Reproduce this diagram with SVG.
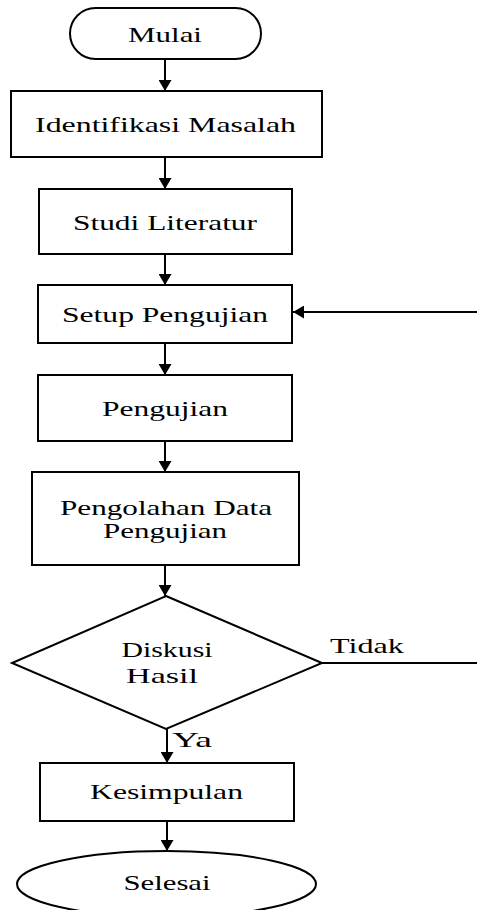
<svg xmlns="http://www.w3.org/2000/svg" width="477" height="910" viewBox="0 0 477 910">
<style>
.s{fill:#fff;stroke:#000;stroke-width:2}
.t{font-family:"Liberation Serif","Times New Roman",serif;font-size:21px;fill:#000;text-anchor:middle}
.c{fill:none;stroke:#000;stroke-width:2}
</style>
<defs>
<marker id="ah" markerUnits="userSpaceOnUse" viewBox="0 0 11 13" markerWidth="11" markerHeight="13" refX="11" refY="6.5" orient="auto">
<path d="M0,0 L11,6.5 L0,13 z" fill="#000"/>
</marker>
</defs>
<rect width="477" height="910" fill="#fff"/>
<g id="connectors">
<line class="c" x1="165" y1="59" x2="165" y2="91" marker-end="url(#ah)"/>
<line class="c" x1="165" y1="157" x2="165" y2="189" marker-end="url(#ah)"/>
<line class="c" x1="165" y1="254" x2="165" y2="285" marker-end="url(#ah)"/>
<line class="c" x1="165" y1="343" x2="165" y2="375" marker-end="url(#ah)"/>
<line class="c" x1="165" y1="441" x2="165" y2="472" marker-end="url(#ah)"/>
<line class="c" x1="165" y1="565" x2="165" y2="596" marker-end="url(#ah)"/>
<line class="c" x1="167" y1="729" x2="167" y2="763" marker-end="url(#ah)"/>
<line class="c" x1="167" y1="821" x2="167" y2="851" marker-end="url(#ah)"/>
<line class="c" x1="477" y1="312" x2="293" y2="312" marker-end="url(#ah)"/>
<line class="c" x1="322" y1="663" x2="477" y2="663"/>
<text class="t" transform="translate(367,653) scale(1.5,1)" textLength="49.3" lengthAdjust="spacingAndGlyphs">Tidak</text>
<text class="t" transform="translate(192,747) scale(1.5,1)" textLength="26.7" lengthAdjust="spacingAndGlyphs">Ya</text>
</g>
<g id="mulai">
<rect class="s" x="70" y="8" width="191" height="51" rx="25.5" ry="25.5"/>
<text class="t" transform="translate(165,42) scale(1.5,1)" textLength="49.3" lengthAdjust="spacingAndGlyphs">Mulai</text>
</g>
<g id="identifikasi">
<rect class="s" x="11" y="91" width="311" height="66"/>
<text class="t" transform="translate(165.5,132) scale(1.5,1)" textLength="174" lengthAdjust="spacingAndGlyphs">Identifikasi Masalah</text>
</g>
<g id="studi">
<rect class="s" x="39" y="189" width="253" height="65"/>
<text class="t" transform="translate(165,230) scale(1.5,1)" textLength="122.7" lengthAdjust="spacingAndGlyphs">Studi Literatur</text>
</g>
<g id="setup">
<rect class="s" x="38" y="285" width="254" height="58"/>
<text class="t" transform="translate(165,322) scale(1.5,1)" textLength="137.3" lengthAdjust="spacingAndGlyphs">Setup Pengujian</text>
</g>
<g id="pengujian">
<rect class="s" x="38" y="375" width="254" height="66"/>
<text class="t" transform="translate(165,416) scale(1.5,1)" textLength="84" lengthAdjust="spacingAndGlyphs">Pengujian</text>
</g>
<g id="pengolahan">
<rect class="s" x="32" y="472" width="267" height="93"/>
<text class="t" transform="translate(166,515) scale(1.5,1)" textLength="141.3" lengthAdjust="spacingAndGlyphs">Pengolahan Data</text>
<text class="t" transform="translate(165,538) scale(1.5,1)" textLength="82.7" lengthAdjust="spacingAndGlyphs">Pengujian</text>
</g>
<g id="diskusi">
<polygon class="s" points="166,596 322,663 166,729 12,663"/>
<text class="t" transform="translate(167,657) scale(1.5,1)" textLength="60.7" lengthAdjust="spacingAndGlyphs">Diskusi</text>
<text class="t" transform="translate(162,683) scale(1.5,1)" textLength="48" lengthAdjust="spacingAndGlyphs">Hasil</text>
</g>
<g id="kesimpulan">
<rect class="s" x="40" y="763" width="254" height="58"/>
<text class="t" transform="translate(166.5,799) scale(1.5,1)" textLength="102" lengthAdjust="spacingAndGlyphs">Kesimpulan</text>
</g>
<g id="selesai">
<ellipse class="s" cx="166.5" cy="884" rx="149.5" ry="33"/>
<text class="t" transform="translate(167,890) scale(1.5,1)" textLength="58" lengthAdjust="spacingAndGlyphs">Selesai</text>
</g>
</svg>
